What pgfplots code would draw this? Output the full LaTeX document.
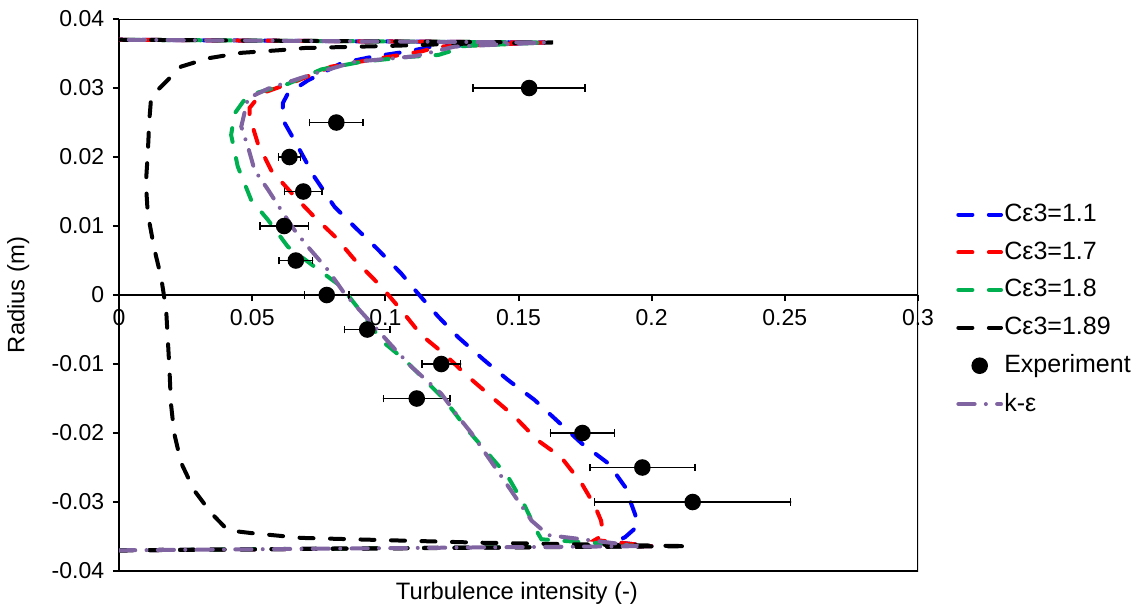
\documentclass[border=0pt]{standalone}
\usepackage{fontspec}
\setmainfont{Liberation Sans}
\usepackage{pgfplots}
\pgfplotsset{compat=1.18}

\definecolor{cblue}{RGB}{0,0,255}
\definecolor{cred}{RGB}{255,0,0}
\definecolor{cgreen}{RGB}{0,176,80}
\definecolor{cpurple}{RGB}{128,100,162}

\begin{document}
\begin{tikzpicture}
\path[use as bounding box] (0pt,0pt) rectangle (456.4pt,244pt);
\begin{axis}[
  at={(47.6pt,15.6pt)}, anchor=south west,
  scale only axis, width=319.6pt, height=220.8pt,
  xmin=0, xmax=0.3, ymin=-0.04, ymax=0.04,
  axis x line=middle, axis y line=left,
  axis line style={-, line width=0.8pt},
  xtick={0,0.05,0.1,0.15,0.2,0.25,0.3},
  ytick={-0.04,-0.03,-0.02,-0.01,0,0.01,0.02,0.03,0.04},
  scaled ticks=false,
  /pgf/number format/fixed, /pgf/number format/precision=2,
  /pgf/number format/assume math mode=true,
  tick label style={font=\fontsize{9.2}{10}\selectfont},
  tick align=outside, major tick length=2.4pt,
  tick style={line width=0.8pt, black},
  hide obscured x ticks=false, hide obscured y ticks=false,
  xlabel={Turbulence intensity (-)}, ylabel={Radius (m)},
  every axis x label/.style={at={(axis description cs:0.498,0)}, anchor=north, yshift=-1pt, font=\fontsize{9.5}{11}\selectfont},
  every axis y label/.style={at={(axis description cs:-0.126,0.5)}, rotate=90, anchor=center, font=\fontsize{9.5}{11}\selectfont},
  legend style={at={(axis description cs:1.038,0.684)}, anchor=north west, draw=none, fill=none,
    font=\fontsize{10}{11.5}\selectfont, row sep=2.6pt,
    /tikz/every odd column/.append style={column sep=-1.5pt}},
  legend cell align=left,
  every axis plot/.append style={line width=1.6pt, line cap=round},
]
\draw[line width=0.8pt] (rel axis cs:0,0) rectangle (rel axis cs:1,1);

% Ce3 = 1.1
\addplot[cblue, dash pattern=on 5.6pt off 6.6pt] coordinates {
 (0,-0.037) (0.2,-0.0364) (0.186,-0.0358) (0.19,-0.0351) (0.195,-0.0334)
 (0.1937,-0.0317) (0.190,-0.0278) (0.1837,-0.0244) (0.1737,-0.0215) (0.165,-0.0184)
 (0.156,-0.0152) (0.146,-0.0123) (0.137,-0.0094) (0.1273,-0.0061) (0.1198,-0.0031)
 (0.1123,0.0002) (0.106,0.0031) (0.0972,0.0066) (0.0884,0.0099) (0.0809,0.0128)
 (0.0734,0.0171) (0.0659,0.0224) (0.0615,0.0254) (0.0615,0.0278) (0.0634,0.0292)
 (0.0709,0.0311) (0.0835,0.0336) (0.096,0.0346) (0.1085,0.0353) (0.1173,0.0360)
 (0.16,0.0366) (0,0.037)
};
\addlegendentry{Cε3=1.1}

% Ce3 = 1.7
\addplot[cred, dash pattern=on 5.6pt off 6.6pt] coordinates {
 (0,-0.037) (0.2,-0.0364) (0.1787,-0.0355) (0.1818,-0.0348) (0.181,-0.0327)
 (0.1787,-0.0306) (0.1737,-0.0273) (0.166,-0.0235) (0.157,-0.0210) (0.1485,-0.0176)
 (0.14,-0.0148) (0.131,-0.0118) (0.122,-0.0085) (0.1135,-0.0058) (0.106,-0.0022)
 (0.0985,0.0012) (0.0885,0.0051) (0.081,0.0085) (0.0734,0.0113) (0.0659,0.0143)
 (0.0571,0.0181) (0.0521,0.0220) (0.049,0.0259) (0.049,0.0271) (0.0534,0.0292)
 (0.0672,0.0311) (0.0797,0.0331) (0.0947,0.0341) (0.1135,0.0353) (0.12,0.036)
 (0.16,0.0366) (0,0.037)
};
\addlegendentry{Cε3=1.7}

% Ce3 = 1.8
\addplot[cgreen, dash pattern=on 5.6pt off 6.6pt] coordinates {
 (0,-0.037) (0.195,-0.0364) (0.1586,-0.0354) (0.1574,-0.0346) (0.1524,-0.0306)
 (0.146,-0.0263) (0.1386,-0.0230) (0.131,-0.0196) (0.1223,-0.0152) (0.1135,-0.0118)
 (0.1073,-0.0094) (0.0985,-0.0066) (0.0922,-0.0031) (0.0835,0.0012) (0.0734,0.0041)
 (0.0634,0.007) (0.0559,0.0109) (0.0496,0.0138) (0.0446,0.0186) (0.0421,0.0232)
 (0.0434,0.0263) (0.0471,0.0283) (0.0509,0.0292) (0.0634,0.0306) (0.076,0.0327)
 (0.091,0.0338) (0.1085,0.0345) (0.12,0.0348) (0.1242,0.0353) (0.125,0.036)
 (0.16,0.0366) (0,0.037)
};
\addlegendentry{Cε3=1.8}

% Ce3 = 1.89
\addplot[black, dash pattern=on 5.6pt off 6.6pt] coordinates {
 (0,-0.037) (0.214,-0.0364) (0.136,-0.0359) (0.0684,-0.0352) (0.0496,-0.0345)
 (0.0409,-0.0341) (0.0346,-0.0316) (0.0282,-0.0283) (0.0233,-0.0243) (0.0207,-0.020)
 (0.0195,-0.0157) (0.0189,-0.0104) (0.0177,-0.0021) (0.0158,0.0026) (0.0133,0.0066)
 (0.0108,0.0118) (0.0101,0.0162) (0.0108,0.0205) (0.0114,0.0254) (0.012,0.0283)
 (0.0145,0.0297) (0.0233,0.0331) (0.0333,0.0343) (0.0459,0.0351) (0.0609,0.0355)
 (0.0696,0.0358) (0.101,0.0361) (0.126,0.0364) (0.163,0.0366) (0,0.037)
};
\addlegendentry{Cε3=1.89}

% Experiment
\addplot[only marks, mark=*, mark size=2.5pt, black, mark options={fill=black, solid},
  error bars/.cd, x dir=both, x explicit,
  error bar style={line width=0.6pt, solid},
  error mark options={rotate=90, mark size=1.5pt, line width=0.6pt, solid}]
  table[x=x, y=y, x error=ex] {
x       y       ex
0.154   0.03    0.021
0.0816  0.025   0.010
0.064   0.02    0.0041
0.0692  0.015   0.007
0.062   0.01    0.0091
0.0664  0.005   0.0063
0.078   0       0.0083
0.0932  -0.005  0.0085
0.121   -0.01   0.0073
0.1118  -0.015  0.0125
0.174   -0.02   0.012
0.1965  -0.025  0.0197
0.2154  -0.03   0.0368
};
\addlegendentry{Experiment}

% k-epsilon
\addplot[cpurple, dash pattern=on 6.5pt off 4.5pt on 0pt off 4.5pt] coordinates {
 (0,-0.037) (0.195,-0.0364) (0.1612,-0.0348) (0.1549,-0.0327) (0.1436,-0.0263)
 (0.1323,-0.020) (0.1273,-0.0176) (0.121,-0.0143) (0.1098,-0.0104) (0.1023,-0.0073)
 (0.0972,-0.0051) (0.0847,0.0002) (0.0785,0.0036) (0.0709,0.007) (0.0659,0.0094)
 (0.0609,0.0123) (0.0559,0.0153) (0.0509,0.0181) (0.0484,0.0215) (0.0459,0.0244)
 (0.0484,0.0285) (0.0559,0.0299) (0.0734,0.0321) (0.0885,0.0338) (0.111,0.0346)
 (0.126,0.036) (0.16,0.0366) (0,0.037)
};
\addlegendentry{k-ε}
\end{axis}
\end{tikzpicture}
\end{document}
